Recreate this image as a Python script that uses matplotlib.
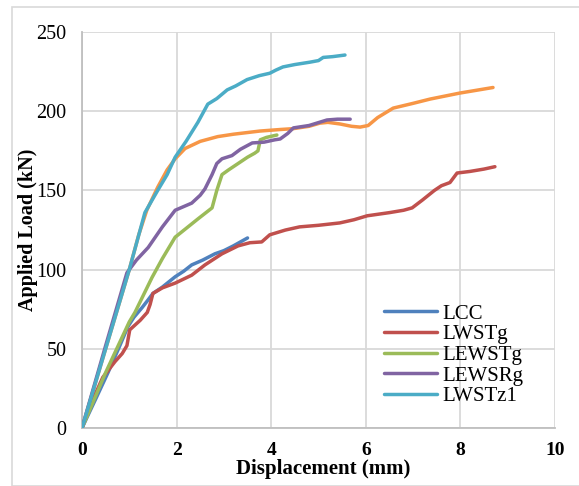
import matplotlib
matplotlib.use("Agg")
import matplotlib.pyplot as plt
from matplotlib.patches import Rectangle

# load-displacement curves (displacement in mm, load in kN)
lcc_x = [0, 0.3, 0.55, 0.8, 0.97, 1.1, 1.27, 1.4, 1.5, 1.7, 1.97, 2.15, 2.32, 2.55, 2.81, 3.0, 3.2, 3.5]
lcc_y = [0, 19, 35, 52, 64, 70, 76, 81, 85, 89, 95.5, 99, 103, 106, 110, 112, 115, 120]

lwstg_x = [0, 0.2, 0.44, 0.7, 0.85, 0.95, 1.01, 1.23, 1.38, 1.44, 1.5, 1.7, 1.97, 2.32, 2.6, 2.96, 3.3,
           3.55, 3.8, 3.97, 4.3, 4.6, 5.0, 5.45, 5.75, 6.03, 6.5, 6.8, 6.98, 7.2, 7.45, 7.6, 7.78,
           7.93, 8.2, 8.5, 8.73]
lwstg_y = [0, 16, 32, 42, 47, 52, 62, 68, 73, 78, 85, 88.5, 91.5, 96.5, 103, 110, 115,
           117, 117.5, 122, 125, 127, 128, 129.5, 131.5, 134, 136, 137.5, 139, 144, 150, 153, 155,
           161, 162, 163.5, 165]

lewstg_x = [0, 0.5, 1.0, 1.12, 1.48, 1.7, 1.97, 2.2, 2.45, 2.75, 2.85, 2.96, 3.1, 3.3, 3.5,
            3.65, 3.72, 3.77, 3.9, 4.12]
lewstg_y = [0, 35, 67, 73, 95, 107, 120.5, 126, 132, 139, 150, 160, 163, 167, 171,
            173.5, 175, 182, 183.5, 185]

lewsrg_x = [0, 0.5, 0.95, 1.15, 1.4, 1.7, 1.97, 2.32, 2.5, 2.6, 2.75, 2.85, 2.96, 3.17, 3.35,
            3.6, 3.85, 4.08, 4.19, 4.35, 4.47, 4.8, 5.18, 5.4, 5.67]
lewsrg_y = [0, 52, 98, 106, 114, 127, 137.5, 142, 147, 151, 160, 167, 170, 172, 176,
            180, 180.5, 182, 182.5, 186, 189.5, 191, 194.5, 195, 195]

lwstz1_x = [0, 0.5, 1.0, 1.33, 1.6, 1.8, 1.97, 2.2, 2.45, 2.66, 2.85, 3.07, 3.25, 3.49, 3.75,
            3.97, 4.1, 4.25, 4.5, 4.82, 5.0, 5.1, 5.3, 5.56]
lwstz1_y = [0, 50, 100, 136, 150, 160, 171, 181, 193, 204.5, 208, 213.5, 216, 220, 222.5,
            224, 226, 228, 229.5, 231, 232, 234, 234.5, 235.5]

ref_x = [0, 0.5, 1.0, 1.2, 1.37, 1.6, 1.8, 1.97, 2.18, 2.5, 2.87, 3.2, 3.76, 4.2, 4.46, 4.8,
         5.03, 5.2, 5.45, 5.7, 5.88, 6.05, 6.25, 6.58, 7.0, 7.36, 7.99, 8.69]
ref_y = [0, 50, 100, 122, 137.5, 152, 163, 170, 176.5, 181, 184, 185.5, 187.5, 188.5, 189, 190.5,
         192.5, 193, 192, 190.5, 190, 191, 196, 202, 205, 207.7, 211.5, 215]

series = [
    ("LCC", lcc_x, lcc_y, "#4F81BD"),
    ("LWSTg", lwstg_x, lwstg_y, "#C0504D"),
    ("LEWSTg", lewstg_x, lewstg_y, "#9BBB59"),
    ("LEWSRg", lewsrg_x, lewsrg_y, "#8064A2"),
    ("LWSTz1", lwstz1_x, lwstz1_y, "#4BACC6"),
]

plt.rcParams["font.family"] = ["Liberation Serif", "DejaVu Serif"]

fig = plt.figure(figsize=(5.79, 4.86), dpi=100)
ax = fig.add_axes([0.1416, 0.1193, 0.8169, 0.8147])

# outer chart border
fig.patches.append(Rectangle((12 / 579, 0.0), 1.0, 1 - 7 / 486, transform=fig.transFigure,
                             fill=False, edgecolor="#D9D9D9", linewidth=1.2))

ax.plot(ref_x, ref_y, color="#F79646", linewidth=2.5, solid_capstyle="round",
        solid_joinstyle="round", zorder=3)
for name, xs, ys, col in series:
    ax.plot(xs, ys, color=col, linewidth=2.5, label=name, solid_capstyle="round",
            solid_joinstyle="round", zorder=3)

ax.set_xlim(0, 10)
ax.set_ylim(0, 250)
ax.set_xticks([0, 2, 4, 6, 8, 10])
ax.set_yticks([0, 50, 100, 150, 200, 250])
ax.grid(True, color="#D9D9D9", linewidth=1.3)
ax.set_axisbelow(True)
for side in ["top", "right"]:
    ax.spines[side].set_visible(False)
for side in ["left", "bottom"]:
    ax.spines[side].set_color("#BFBFBF")
    ax.spines[side].set_linewidth(1.3)
ax.tick_params(length=0)
ax.tick_params(axis="y", pad=11)
ax.tick_params(axis="x", pad=10)
for lbl in ax.get_xticklabels():
    lbl.set_fontsize(14)
    lbl.set_fontweight("bold")
for lbl in ax.get_yticklabels():
    lbl.set_fontsize(14.5)

ax.set_xlabel("Displacement (mm)", fontsize=15, fontweight="bold", labelpad=0, x=0.51)
ax.set_ylabel("Applied Load (kN)", fontsize=14.5, fontweight="bold", labelpad=-1)

ax.legend(loc="center left", bbox_to_anchor=(0.638, 0.184), frameon=False, fontsize=15,
          handlelength=2.55, handletextpad=0.25, labelspacing=0.05, borderpad=0,
          borderaxespad=0)

fig.savefig("out.png", dpi=100)
